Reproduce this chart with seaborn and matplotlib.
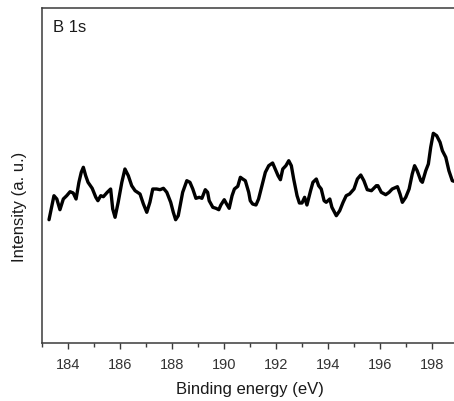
import matplotlib
matplotlib.use("Agg")
import matplotlib.pyplot as plt
import seaborn as sns
import pandas as pd
from matplotlib.ticker import MultipleLocator

# Binding energy (eV) and intensity (a.u.)
energy = [183.27, 183.46, 183.57, 183.69, 183.82, 183.95, 184.08, 184.20, 184.31, 184.42,
          184.51, 184.59, 184.68, 184.77, 184.93, 185.07, 185.15, 185.26, 185.36, 185.51,
          185.64, 185.72, 185.81, 185.93, 186.07, 186.19, 186.32, 186.45, 186.58, 186.77,
          186.90, 187.03, 187.15, 187.26, 187.41, 187.54, 187.67, 187.80, 187.95, 188.05,
          188.14, 188.24, 188.41, 188.57, 188.69, 188.80, 188.92, 189.05, 189.15, 189.28,
          189.37, 189.43, 189.57, 189.69, 189.80, 189.88, 190.01, 190.10, 190.20, 190.31,
          190.40, 190.53, 190.63, 190.72, 190.82, 190.95, 191.01, 191.10, 191.23, 191.33,
          191.46, 191.59, 191.72, 191.87, 191.97, 192.08, 192.17, 192.26, 192.38, 192.49,
          192.59, 192.68, 192.81, 192.90, 193.00, 193.10, 193.19, 193.33, 193.42, 193.55,
          193.64, 193.74, 193.85, 193.93, 194.07, 194.15, 194.32, 194.45, 194.58, 194.70,
          194.83, 195.00, 195.13, 195.26, 195.38, 195.51, 195.67, 195.86, 195.92, 196.05,
          196.22, 196.35, 196.47, 196.67, 196.77, 196.86, 196.99, 197.12, 197.24, 197.33,
          197.43, 197.57, 197.63, 197.76, 197.86, 197.95, 198.05, 198.18, 198.31, 198.40,
          198.53, 198.65, 198.78, 198.85]
intensity = [123.3, 147.3, 144.0, 133.3, 144.0, 147.3, 151.3, 150.0, 144.0, 160.7,
             170.7, 175.7, 167.3, 160.7, 154.7, 145.7, 142.3, 147.3, 146.3, 150.7,
             154.0, 134.0, 125.7, 140.7, 160.7, 174.0, 167.3, 157.3, 152.3, 149.0,
             139.0, 130.7, 140.7, 154.0, 154.0, 153.3, 154.7, 150.7, 140.7, 130.7,
             123.3, 127.3, 150.7, 162.3, 160.7, 154.0, 144.7, 145.7, 144.7, 153.3,
             150.7, 142.3, 135.7, 134.7, 133.3, 138.0, 143.3, 139.0, 134.7, 147.3,
             154.0, 156.7, 165.7, 164.0, 162.3, 150.7, 142.3, 139.0, 138.0, 144.0,
             157.3, 170.7, 177.3, 180.0, 174.0, 167.3, 163.3, 174.0, 177.3, 182.3,
             177.3, 164.0, 147.3, 140.0, 140.0, 145.7, 138.0, 152.3, 160.7, 164.0,
             157.3, 154.0, 142.3, 140.7, 144.0, 135.7, 127.3, 132.3, 140.7, 147.3,
             149.0, 154.0, 164.0, 168.0, 162.3, 153.3, 152.3, 157.3, 157.3, 150.7,
             148.3, 150.7, 154.0, 156.3, 149.0, 140.7, 145.7, 154.0, 169.0, 177.3,
             172.3, 162.3, 160.7, 172.3, 179.0, 195.7, 209.7, 207.3, 200.7, 192.3,
             185.7, 172.3, 162.3, 161.7]

x_ticks = [184, 186, 188, 190, 192, 194, 196, 198]
panel_label = "B 1s"
x_label = "Binding energy (eV)"
y_label = "Intensity (a. u.)"

df = pd.DataFrame({"energy": energy, "intensity": intensity})

sns.set_style("white")
plt.rcParams["font.family"] = ["Liberation Sans", "DejaVu Sans"]

W, H = 454, 402
fig = plt.figure(figsize=(W / 100, H / 100), dpi=100)
ax = fig.add_axes([42 / W, 1 - 344 / H, 416 / W, 335 / H])

sns.lineplot(data=df, x="energy", y="intensity", ax=ax, color="black",
             linewidth=2.4, estimator=None, sort=False)

ax.set_xlim(183.0, 199.0)
ax.set_ylim(0, 335)
ax.set_xticks(x_ticks)
ax.xaxis.set_minor_locator(MultipleLocator(1))
ax.set_yticks([])

for side in ["left", "bottom", "top", "right"]:
    ax.spines[side].set_color("#3a3a3a")
    ax.spines[side].set_linewidth(1.1)

ax.tick_params(axis="x", which="major", direction="out", length=4, width=1.0,
               color="#3a3a3a", labelsize=10.5, pad=6, bottom=True)
ax.tick_params(axis="x", which="minor", direction="out", length=3, width=1.0,
               color="#3a3a3a", bottom=True)

ax.set_xlabel(x_label, fontsize=12, labelpad=7, color="#1a1a1a")
ax.set_ylabel(y_label, fontsize=12, color="#1a1a1a")
ax.yaxis.set_label_coords(-0.037, 0.41)
for t in ax.get_xticklabels():
    t.set_color("#333333")

ax.text(0.026, 0.932, panel_label, transform=ax.transAxes, fontsize=12,
        ha="left", va="baseline", color="#1a1a1a")

fig.savefig("out.png", dpi=100)
